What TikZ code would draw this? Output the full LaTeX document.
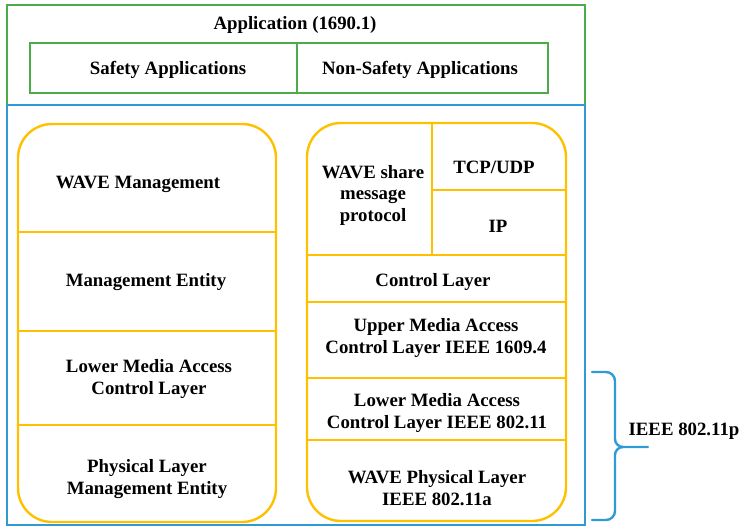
\documentclass[tikz,border=0pt]{standalone}
\usepackage{fontspec}
\setmainfont{Liberation Serif}[BoldFont={Liberation Serif Bold}]
\definecolor{appgreen}{RGB}{76,172,72}
\definecolor{ieeeblue}{RGB}{48,154,214}
\definecolor{layergold}{RGB}{255,192,0}
\tikzset{
  gframe/.style={draw=appgreen, line width=2.4pt},
  bframe/.style={draw=ieeeblue, line width=2.4pt},
  yframe/.style={draw=layergold, line width=2.4pt},
  lbl/.style={font=\fontsize{18.8}{21.5}\selectfont\rmfamily\bfseries, align=center, inner sep=0pt}
}
\begin{document}
\begin{tikzpicture}[x=1pt,y=-1pt]
\useasboundingbox (0,0) rectangle (744,532);
% application frame
\draw[gframe] (7,5) rectangle (585,105);
\draw[gframe] (30,43) rectangle (297,93);
\draw[gframe] (297,43) rectangle (548,93);
\node[lbl] (app) at (295,25) {Application (1690.1)};
\node[lbl] (safe) at (168,70) {Safety Applications};
\node[lbl] (nonsafe) at (420,70) {Non-Safety Applications};
% blue frame
\draw[bframe] (7,105) rectangle (585,525);
% left column
\draw[yframe, rounded corners=34pt] (18,124) rectangle (276,522);
\draw[yframe] (18,232) -- (276,232);
\draw[yframe] (18,331) -- (276,331);
\draw[yframe] (18,425) -- (276,425);
\node[lbl] (wm) at (138,184) {WAVE Management};
\node[lbl] (me) at (146,282) {Management Entity};
\node[lbl] (lmac) at (149,379) {Lower Media Access\\Control Layer};
\node[lbl] (phy) at (147,479) {Physical Layer\\Management Entity};
% right column
\draw[yframe, rounded corners=34pt] (307,123) rectangle (566,521);
\draw[yframe] (432,123) -- (432,255);
\draw[yframe] (432,190) -- (566,190);
\draw[yframe] (307,255) -- (566,255);
\draw[yframe] (307,302) -- (566,302);
\draw[yframe] (307,378) -- (566,378);
\draw[yframe] (307,440) -- (566,440);
\node[lbl] (wsmp) at (373,195) {WAVE share\\message\\protocol};
\node[lbl] (tcp) at (494,167) {TCP/UDP};
\node[lbl] (ip) at (498,226) {IP};
\node[lbl] (ctl) at (433,282) {Control Layer};
\node[lbl] (umac) at (436,338) {Upper Media Access\\Control Layer IEEE 1609.4};
\node[lbl] (lmac2) at (437,413) {Lower Media Access\\Control Layer IEEE 802.11};
\node[lbl] (wphy) at (437,488) {WAVE Physical Layer\\IEEE 802.11a};
% brace
\draw[bframe, line cap=round, line join=round]
  (592,372) -- (606,372) to[out=0,in=90] (615,381) -- (615,439)
  to[out=-90,in=180] (623,447) -- (648,447);
\draw[bframe, line cap=round, line join=round]
  (623,447) to[out=180,in=90] (615,455) -- (615,511)
  to[out=-90,in=0] (606,520) -- (592,520);
\node[lbl] (p11) at (684,431) {IEEE 802.11p};
\end{tikzpicture}
\end{document}
